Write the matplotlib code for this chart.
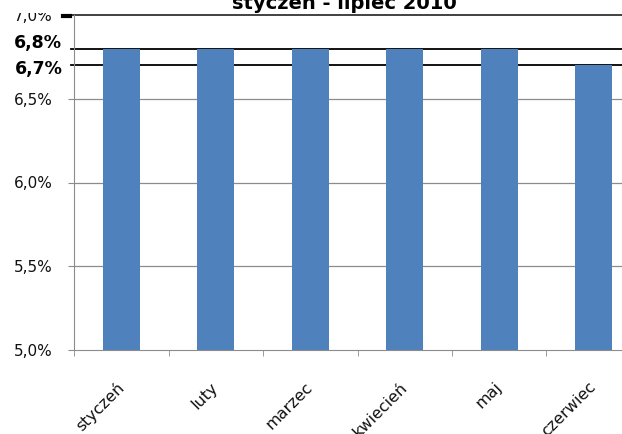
import matplotlib
matplotlib.use('Agg')
import matplotlib.pyplot as plt
from matplotlib.patches import Rectangle
import numpy as np

categories = ['styczeń', 'luty', 'marzec', 'kwiecień', 'maj', 'czerwiec']
values = [6.8, 6.8, 6.8, 6.8, 6.8, 6.7]
ref_lines = [6.8, 6.7]
yticks = [5.0, 5.5, 6.0, 6.5, 7.0]
title = 'styczeń - lipiec 2010'

W, H = 622, 434
fig = plt.figure(figsize=(W/100, H/100), dpi=100)
ax = fig.add_axes([74.3/W, 1-350/H, 6*94.4/W, 335/H])

index = np.arange(len(categories))
grid_c = '#8c8c8c'
bar_c = '#4F81BD'

ax.bar(index, values, 0.39, color=bar_c, zorder=3)
ax.set_xlim(-0.5, len(categories)-0.5)
ax.set_ylim(5.0, 7.0)

# gridlines
for v in yticks[1:-1]:
    ax.axhline(v, color=grid_c, lw=0.9, zorder=1)

# black reference lines, a bit outside the axis on the left
for v in ref_lines:
    ax.plot([-3/564, 1], [v, v], color='black', lw=1.3,
            transform=ax.get_yaxis_transform(), clip_on=False, zorder=2)
# top line
ax.plot([-11/564, 1], [7.0, 7.0], color='#333333', lw=1.3,
        transform=ax.get_yaxis_transform(), clip_on=False, zorder=2)
ax.plot([-11/564, -4/564], [6.995, 6.995], color='black', lw=3,
        transform=ax.get_yaxis_transform(), clip_on=False, zorder=2)

def fmt(v):
    return ('%.1f' % v).replace('.', ',') + '%'

ax.set_yticks(yticks)
ax.set_yticklabels([fmt(v) for v in yticks], fontsize=11, color='#111111')
ax.tick_params(axis='y', length=4.3, color=grid_c, pad=11.5)

# bold labels of the reference lines
offs = {6.8: 4, 6.7: -3}
for v in ref_lines:
    ax.annotate(fmt(v), xy=(0, v), xycoords=('axes fraction', 'data'),
                xytext=(-8.6, offs.get(v, 0)), textcoords='offset points',
                ha='right', va='center', fontsize=12.5, fontweight='bold',
                annotation_clip=False)

ax.set_xticks(index)
ax.set_xticklabels(categories, rotation=45, ha='right', va='center',
                   rotation_mode='anchor', fontsize=11.5, color='#111111')
ax.tick_params(axis='x', length=0, pad=25)
ax.set_xticks(np.arange(len(categories)+1) - 0.5, minor=True)
ax.tick_params(axis='x', which='minor', length=4.5, color=grid_c)

for s in ['top', 'right']:
    ax.spines[s].set_visible(False)
for s in ['left', 'bottom']:
    ax.spines[s].set_color(grid_c)
ax.spines['bottom'].set_zorder(4)

fig.text(344/W, 1-9/H, title, ha='center', va='baseline',
         fontsize=14, fontweight='bold')

# the top of the 7,0% label is hidden in the original
fig.add_artist(Rectangle((0, 1-13/H), 62/W, 13/H, transform=fig.transFigure,
                         facecolor='white', edgecolor='none', zorder=10))

fig.savefig('out.png', dpi=100)
